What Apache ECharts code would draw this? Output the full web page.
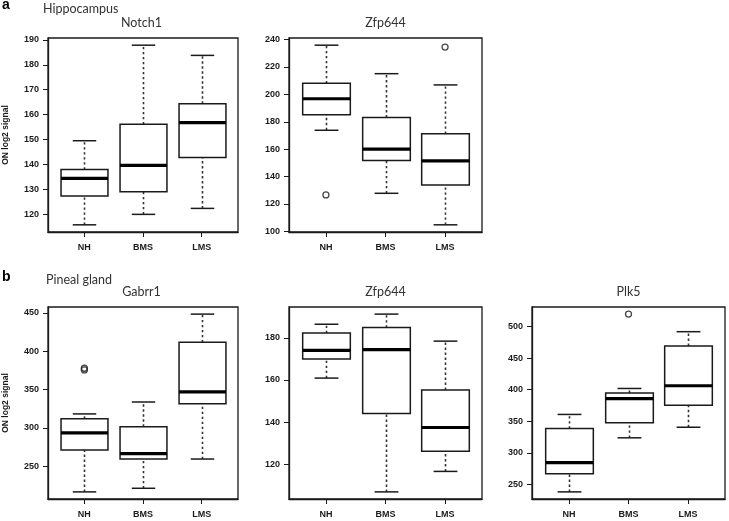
<!DOCTYPE html>
<html>
<head>
<meta charset="utf-8">
<script src="https://cdn.jsdelivr.net/npm/echarts@6/dist/echarts.min.js"></script>
<style>
html,body{margin:0;padding:0;background:#fff;}
#chart{width:729px;height:521px;}
</style>
</head>
<body>
<div id="chart"></div>
<script>
// ---- data ----
const categories = ['NH', 'BMS', 'LMS'];

// each row: [lower whisker, Q1, median, Q3, upper whisker]
const notch1Stats = [
  [115.7, 127.3, 134.4, 137.9, 149.5],
  [119.9, 129.0, 139.6, 156.1, 187.9],
  [122.3, 142.8, 156.8, 164.4, 183.8]
];
const notch1Outliers = [];
const notch1Ticks = [120, 130, 140, 150, 160, 170, 180, 190];

const zfp644HipStats = [
  [173.8, 185.1, 196.8, 208.1, 235.9],
  [127.8, 151.8, 160.1, 183.2, 215.1],
  [104.8, 133.8, 151.5, 171.2, 206.9]
];
const zfp644HipOutliers = [[0, 126.6], [2, 234.5]];
const zfp644HipTicks = [100, 120, 140, 160, 180, 200, 220, 240];

const gabrr1Stats = [
  [216.7, 271.2, 293.7, 312.0, 318.3],
  [221.4, 259.5, 266.5, 301.7, 333.8],
  [259.5, 331.6, 347.0, 411.5, 448.3]
];
const gabrr1Outliers = [[0, 377.8], [0, 375.6]];
const gabrr1Ticks = [250, 300, 350, 400, 450];

const zfp644PinStats = [
  [160.9, 169.9, 174.0, 182.2, 186.4],
  [107.0, 144.1, 174.4, 184.8, 191.2],
  [116.7, 126.3, 137.5, 155.3, 178.4]
];
const zfp644PinOutliers = [];
const zfp644PinTicks = [120, 140, 160, 180];

const plk5Stats = [
  [237.9, 266.8, 284.2, 338.4, 360.8],
  [323.7, 347.7, 385.8, 395.0, 402.0],
  [340.5, 375.3, 406.3, 469.5, 492.1]
];
const plk5Outliers = [[1, 520.0]];
const plk5Ticks = [250, 300, 350, 400, 450, 500];

const panelTitles = ['Notch1', 'Zfp644', 'Gabrr1', 'Zfp644', 'Plk5'];
const yAxisName = 'ON log2 signal';

// ---- layout ----
const panels = [
  { stats: notch1Stats, out: notch1Outliers, ticks: notch1Ticks, left: 45, top: 38, width: 193, height: 194, yname: true },
  { stats: zfp644HipStats, out: zfp644HipOutliers, ticks: zfp644HipTicks, left: 289, top: 38, width: 193, height: 194, yname: false },
  { stats: gabrr1Stats, out: gabrr1Outliers, ticks: gabrr1Ticks, left: 45, top: 307, width: 193, height: 192, yname: true },
  { stats: zfp644PinStats, out: zfp644PinOutliers, ticks: zfp644PinTicks, left: 289, top: 307, width: 193, height: 192, yname: false },
  { stats: plk5Stats, out: plk5Outliers, ticks: plk5Ticks, left: 532, top: 307, width: 193, height: 192, yname: false }
];

// R default: axis range = data range expanded by 4% on each side
function rRange(stats, out) {
  let lo = Infinity, hi = -Infinity;
  stats.forEach(s => { lo = Math.min(lo, s[0]); hi = Math.max(hi, s[4]); });
  out.forEach(o => { lo = Math.min(lo, o[1]); hi = Math.max(hi, o[1]); });
  const pad = (hi - lo) * 0.04;
  return [lo - pad, hi + pad];
}

const INK = '#1a1a1a';
const tickFont = { fontFamily: 'Liberation Sans, Arial, sans-serif', fontSize: 9, fontWeight: 'bold', color: INK };

function renderBox(params, api) {
  const x = api.value(0);
  const lo = api.coord([x, api.value(1)]);
  const q1 = api.coord([x, api.value(2)]);
  const md = api.coord([x, api.value(3)]);
  const q3 = api.coord([x, api.value(4)]);
  const hi = api.coord([x, api.value(5)]);
  const bw = api.size([0.8, 0])[0];
  const half = bw / 2;
  const cap = bw / 4;
  const cx = Math.round(lo[0]) + 0.5;
  const dashStyle = { stroke: '#333', lineWidth: 1.6, lineDash: [2.4, 2.6], fill: null };
  const solid = { stroke: INK, lineWidth: 1.5, fill: null };
  return {
    type: 'group',
    children: [
      { type: 'line', shape: { x1: cx, y1: lo[1], x2: cx, y2: q1[1] }, style: dashStyle },
      { type: 'line', shape: { x1: cx, y1: q3[1], x2: cx, y2: hi[1] }, style: dashStyle },
      { type: 'line', shape: { x1: cx - cap, y1: lo[1], x2: cx + cap, y2: lo[1] }, style: solid },
      { type: 'line', shape: { x1: cx - cap, y1: hi[1], x2: cx + cap, y2: hi[1] }, style: solid },
      { type: 'rect', shape: { x: cx - half, y: q3[1], width: bw, height: q1[1] - q3[1] },
        style: { fill: '#fff', stroke: INK, lineWidth: 1.5 } },
      { type: 'line', shape: { x1: cx - half, y1: md[1], x2: cx + half, y2: md[1] },
        style: { stroke: '#000', lineWidth: 3.2 } }
    ]
  };
}

const grid = [], xAxis = [], yAxis = [], series = [];
panels.forEach((p, i) => {
  grid.push({ left: p.left, top: p.top, width: p.width, height: p.height, show: true,
    borderColor: INK, borderWidth: 1.3, backgroundColor: 'transparent' });
  xAxis.push({
    type: 'value', gridIndex: i, min: 0.38, max: 3.62,
    axisLine: { show: true, lineStyle: { color: INK, width: 1.3 } },
    axisTick: { show: true, length: 5, customValues: [1, 2, 3], lineStyle: { color: INK, width: 1 } },
    axisLabel: Object.assign({ customValues: [1, 2, 3], margin: 11,
      formatter: v => categories[Math.round(v) - 1] }, tickFont),
    splitLine: { show: false }
  });
  const r = rRange(p.stats, p.out);
  yAxis.push({
    type: 'value', gridIndex: i, min: r[0], max: r[1],
    axisLine: { show: true, lineStyle: { color: INK, width: 1.3 } },
    axisTick: { show: true, length: 5, customValues: p.ticks, lineStyle: { color: INK, width: 1 } },
    axisLabel: Object.assign({ customValues: p.ticks, margin: 9 }, tickFont),
    splitLine: { show: false },
    name: p.yname ? yAxisName : '',
    nameLocation: 'middle', nameRotate: 90, nameGap: 38,
    nameTextStyle: { fontFamily: 'Liberation Sans, Arial, sans-serif', fontSize: 8.5, fontWeight: 'bold', color: INK }
  });
  series.push({
    type: 'custom', xAxisIndex: i, yAxisIndex: i,
    renderItem: renderBox,
    encode: { x: 0, y: [1, 2, 3, 4, 5] },
    data: p.stats.map((s, k) => [k + 1].concat(s)),
    silent: true, animation: false
  });
  series.push({
    type: 'scatter', xAxisIndex: i, yAxisIndex: i,
    symbol: 'circle', symbolSize: 6,
    itemStyle: { color: 'rgba(255,255,255,0)', borderColor: INK, borderWidth: 1.3 },
    data: p.out.map(o => [o[0] + 1, o[1]]),
    silent: true, animation: false, z: 5
  });
});

const titleFont = 'Lato, "Open Sans", sans-serif';
const graphic = [
  { type: 'text', left: 2, top: -2, style: { text: 'a', font: 'bold 14px "Liberation Sans", Arial, sans-serif', fill: '#000' } },
  { type: 'text', left: 43, top: 2, style: { text: 'Hippocampus', font: '12.5px ' + titleFont, fill: '#333' } },
  { type: 'text', left: 2, top: 270, style: { text: 'b', font: 'bold 14px "Liberation Sans", Arial, sans-serif', fill: '#000' } },
  { type: 'text', left: 46, top: 273, style: { text: 'Pineal gland', font: '12.5px ' + titleFont, fill: '#333' } }
];
panels.forEach((p, i) => {
  graphic.push({ type: 'text', x: p.left + p.width / 2, y: p.top - 15,
    style: { text: panelTitles[i], font: '12.5px ' + titleFont, fill: '#333', textAlign: 'center', textVerticalAlign: 'middle' } });
});

const chart = echarts.init(document.getElementById('chart'), null, { renderer: 'canvas' });
chart.setOption({
  animation: false,
  backgroundColor: '#fff',
  grid, xAxis, yAxis, series, graphic
});
</script>
</body>
</html>
